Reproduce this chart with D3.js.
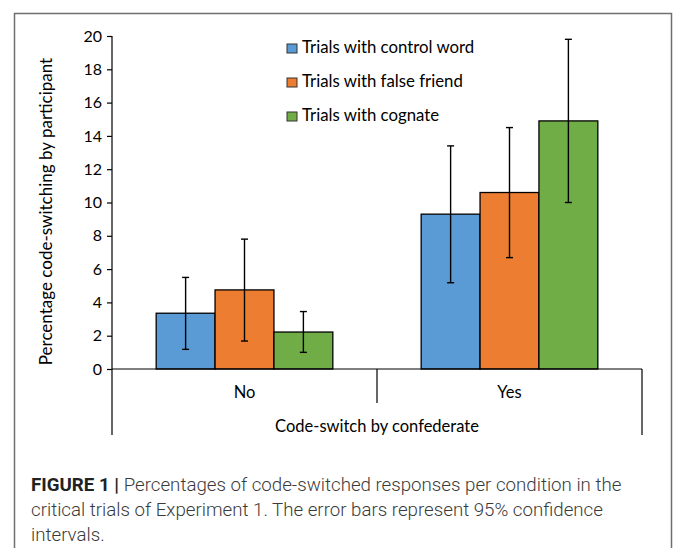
<!DOCTYPE html>
<html>
<head>
<meta charset="utf-8">
<script src="https://cdn.jsdelivr.net/npm/d3@7"></script>
<style>
  body { margin: 0; background: #fff; }
  svg { display: block; }
  .chart text { font-family: Lato, "Open Sans", sans-serif; fill: #000; }
  .caption text { font-family: Roboto, "Liberation Sans", sans-serif; font-weight: 300; fill: #3a3a3a; }
</style>
</head>
<body>
<div id="figure"></div>
<script>
// data
const categories = ['No', 'Yes']
const seriesNames = ['Trials with control word', 'Trials with false friend', 'Trials with cognate']
const seriesColors = ['#5B9BD5', '#ED7D31', '#70AD47']
const means = [
  [3.35, 9.3],   // control word
  [4.75, 10.6],  // false friend
  [2.22, 14.9],  // cognate
]
const ciLow = [
  [1.18, 5.18],
  [1.68, 6.69],
  [1.0, 10.0],
]
const ciHigh = [
  [5.5, 13.4],
  [7.8, 14.5],
  [3.45, 19.8],
]
const yTicks = [0, 2, 4, 6, 8, 10, 12, 14, 16, 18, 20]
const yTitle = 'Percentage code-switching by participant'
const xTitle = 'Code-switch by confederate'
const captionLines = [
  ['FIGURE 1 | ', 'Percentages of code-switched responses per condition in the'],
  ['', 'critical trials of Experiment 1. The error bars represent 95% confidence'],
  ['', 'intervals.'],
]

const width = 673
const height = 548
const plot = { left: 112, right: 642, top: 36, bottom: 369 }

const svg = d3.select('#figure').append('svg')
  .attr('width', width)
  .attr('height', height)

// outer frame (open at the bottom)
svg.append('path')
  .attr('d', `M14.5,${height}V13.5H671.5V${height}`)
  .attr('fill', 'none')
  .attr('stroke', '#6f6f6f')
  .attr('stroke-width', 1.5)

const chart = svg.append('g').attr('class', 'chart')

const y = d3.scaleLinear().domain([0, 20]).range([plot.bottom, plot.top])
const x0 = d3.scaleBand().domain(categories).range([plot.left, plot.right])
const x1 = d3.scaleBand()
  .domain(d3.range(seriesNames.length))
  .range([0, x0.bandwidth()])
  .paddingInner(0)
  .paddingOuter(0.75)

// y axis ticks + labels
const yAxis = chart.append('g')
  .attr('transform', `translate(${plot.left},0)`)
  .call(d3.axisLeft(y).tickValues(yTicks).tickSize(5).tickSizeOuter(0).tickPadding(5))
yAxis.select('.domain').remove()
yAxis.selectAll('line').attr('stroke', '#000').attr('stroke-width', 1.2)
yAxis.selectAll('text')
  .attr('font-size', 16)
  .attr('font-family', 'Lato, sans-serif')
  .attr('fill', '#000')

// bars
const rows = []
seriesNames.forEach((s, i) => {
  categories.forEach((c, j) => {
    rows.push({ s: i, c, v: means[i][j], lo: ciLow[i][j], hi: ciHigh[i][j] })
  })
})

chart.append('g').selectAll('rect')
  .data(rows)
  .join('rect')
  .attr('x', d => x0(d.c) + x1(d.s))
  .attr('y', d => y(d.v))
  .attr('width', x1.bandwidth())
  .attr('height', d => y(0) - y(d.v))
  .attr('fill', d => seriesColors[d.s])
  .attr('stroke', '#000')
  .attr('stroke-width', 1.3)

// error bars
const err = chart.append('g')
  .attr('stroke', '#000')
  .attr('stroke-width', 1.4)
  .selectAll('g')
  .data(rows)
  .join('g')
  .attr('transform', d => `translate(${x0(d.c) + x1(d.s) + x1.bandwidth() / 2},0)`)
err.append('line').attr('y1', d => y(d.lo)).attr('y2', d => y(d.hi))
err.append('line').attr('x1', -3.5).attr('x2', 3.5).attr('y1', d => y(d.hi)).attr('y2', d => y(d.hi))
err.append('line').attr('x1', -3.5).attr('x2', 3.5).attr('y1', d => y(d.lo)).attr('y2', d => y(d.lo))

// axis lines (multi-level category axis like Excel)
const axes = chart.append('g').attr('stroke', '#000').attr('stroke-width', 1.2)
axes.append('line').attr('x1', plot.left).attr('x2', plot.left).attr('y1', plot.top).attr('y2', 435)
axes.append('line').attr('x1', plot.left).attr('x2', plot.right).attr('y1', plot.bottom).attr('y2', plot.bottom)
axes.append('line').attr('x1', plot.right).attr('x2', plot.right).attr('y1', plot.bottom).attr('y2', 435)
categories.slice(1).forEach(c => {
  axes.append('line').attr('x1', x0(c)).attr('x2', x0(c)).attr('y1', plot.bottom).attr('y2', 403)
})

chart.append('g').selectAll('text')
  .data(categories)
  .join('text')
  .attr('x', d => x0(d) + x0.bandwidth() / 2)
  .attr('y', 398)
  .attr('text-anchor', 'middle')
  .attr('font-size', 16.5)
  .text(d => d)

chart.append('text')
  .attr('x', (plot.left + plot.right) / 2)
  .attr('y', 432)
  .attr('text-anchor', 'middle')
  .attr('font-size', 16.5)
  .text(xTitle)

chart.append('text')
  .attr('transform', `translate(52,${(plot.top + plot.bottom) / 2 + 9}) rotate(-90)`)
  .attr('text-anchor', 'middle')
  .attr('font-size', 17)
  .text(yTitle)

// legend
const legend = chart.append('g').selectAll('g')
  .data(seriesNames)
  .join('g')
  .attr('transform', (d, i) => `translate(287,${53 + i * 34})`)
legend.append('rect')
  .attr('x', 0).attr('y', -9).attr('width', 10).attr('height', 9)
  .attr('fill', (d, i) => seriesColors[i])
  .attr('stroke', '#333')
  .attr('stroke-width', 1)
legend.append('text')
  .attr('x', 15)
  .attr('y', 0)
  .attr('font-size', 16.8)
  .text(d => d)

// caption
const caption = svg.append('g').attr('class', 'caption')
const capText = caption.selectAll('text')
  .data(captionLines)
  .join('text')
  .attr('x', 31)
  .attr('y', (d, i) => 491 + i * 25)
  .attr('font-size', 18.7)
capText.append('tspan')
  .attr('font-weight', 700)
  .attr('fill', '#222')
  .text(d => d[0])
capText.append('tspan').text(d => d[1])
</script>
</body>
</html>
